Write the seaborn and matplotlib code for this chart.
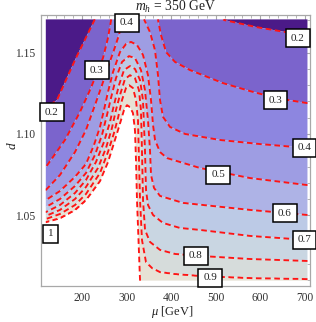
import numpy as np
import matplotlib
matplotlib.use("Agg")
import matplotlib.pyplot as plt
import seaborn as sns
from matplotlib.ticker import MultipleLocator, FormatStrFormatter

sns.set_theme(style="white")
plt.rcParams['font.family'] = ['Liberation Serif', 'DejaVu Serif']
plt.rcParams['mathtext.fontset'] = 'custom'
plt.rcParams['mathtext.it'] = 'Liberation Serif:italic'
plt.rcParams['mathtext.rm'] = 'Liberation Serif'

TITLE = "$m_h$ = 350 GeV"
XLABEL = "$\\mu$ [GeV]"
YLABEL = "$d$"
MU_RANGE = [118.0, 706.0]
D_RANGE = [1.0098, 1.1705]
X_TICKS = [200, 300, 400, 500, 600, 700]
Y_TICKS = [1.05, 1.10, 1.15]

LEVELS = [0.2, 0.3, 0.4, 0.5, 0.6, 0.7, 0.8, 0.9, 1.0]
BAND_COLORS = ["#4b1a88", "#7b64cc", "#8d86e0", "#9e9de3", "#aeb3e6",
               "#bccae6", "#c9d6e2", "#d6dcdb", "#e7e2d5"]

# contour lines: (mu, d) points along each level
C02_MU = [118.4, 143.1, 183.6, 228.5, 251.0, 374.6, 475.7, 518.4, 590.3, 668.9, 704.9]
C02_D = [1.1160, 1.1209, 1.1455, 1.1707, 1.1855, 1.2439, 1.1855, 1.1701, 1.1658, 1.1621, 1.1603]

C03_MU = [118.4, 161.1, 194.8, 217.3, 233.0, 246.5, 257.7, 266.7, 275.7, 318.4, 352.1,
          367.9, 376.8, 388.1, 408.3, 442.0, 516.2, 576.8, 635.2, 704.9]
C03_D = [1.0797, 1.0963, 1.1135, 1.1270, 1.1375, 1.1467, 1.1590, 1.1732, 1.1885, 1.2193, 1.1885,
         1.1732, 1.1609, 1.1504, 1.1443, 1.1393, 1.1313, 1.1264, 1.1221, 1.1190]

C04_MU = [118.4, 149.9, 183.6, 208.3, 228.5, 244.3, 257.7, 271.2, 282.5, 291.5, 300.4, 311.7,
          322.9, 334.1, 352.1, 363.4, 370.1, 374.6, 381.3, 397.1, 430.8, 509.4, 599.3, 704.9]
C04_D = [1.0656, 1.0748, 1.0889, 1.1025, 1.1178, 1.1301, 1.1412, 1.1516, 1.1609, 1.1732, 1.1855, 1.1917,
         1.1855, 1.1732, 1.1627, 1.1516, 1.1362, 1.1209, 1.1105, 1.1043, 1.1000, 1.0963, 1.0938, 1.0914]

C05_MU = [118.4, 149.9, 183.6, 208.3, 226.3, 239.8, 248.8, 257.7, 269.0, 284.7, 298.2, 309.4,
          322.9, 336.4, 347.6, 354.4, 358.9, 363.4, 374.6, 390.3, 464.5, 576.8, 704.9]
C05_D = [1.0594, 1.0649, 1.0736, 1.0815, 1.0932, 1.1043, 1.1148, 1.1258, 1.1381, 1.1504, 1.1553, 1.1566,
         1.1547, 1.1486, 1.1362, 1.1209, 1.1055, 1.0963, 1.0889, 1.0852, 1.0791, 1.0729, 1.0686]

C06_MU = [118.4, 149.9, 183.6, 208.3, 228.5, 244.3, 255.5, 264.5, 275.7, 289.2, 304.9, 318.4,
          331.9, 340.9, 347.6, 352.1, 354.4, 361.1, 374.6, 426.3, 576.8, 704.9]
C06_D = [1.0551, 1.0600, 1.0680, 1.0760, 1.0871, 1.0994, 1.1117, 1.1221, 1.1344, 1.1443, 1.1479, 1.1467,
         1.1393, 1.1270, 1.1086, 1.0902, 1.0748, 1.0668, 1.0619, 1.0576, 1.0533, 1.0502]

C07_MU = [118.4, 149.9, 183.6, 208.3, 230.8, 248.8, 262.2, 271.2, 282.5, 293.7, 307.2, 318.4,
          329.7, 336.4, 340.9, 343.1, 347.6, 358.9, 381.3, 419.5, 464.5, 576.8, 704.9]
C07_D = [1.0520, 1.0563, 1.0637, 1.0717, 1.0828, 1.0951, 1.1074, 1.1178, 1.1301, 1.1393, 1.1418, 1.1400,
         1.1332, 1.1209, 1.0902, 1.0656, 1.0563, 1.0502, 1.0453, 1.0422, 1.0410, 1.0373, 1.0348]

C08_MU = [118.4, 149.9, 183.6, 208.3, 235.3, 253.3, 266.7, 275.7, 284.7, 295.9, 307.2, 318.4,
          327.4, 331.9, 334.1, 336.4, 340.9, 352.1, 374.6, 408.3, 464.5, 576.8, 704.9]
C08_D = [1.0496, 1.0533, 1.0600, 1.0674, 1.0791, 1.0914, 1.1037, 1.1148, 1.1240, 1.1338, 1.1362, 1.1344,
         1.1270, 1.1148, 1.0902, 1.0594, 1.0410, 1.0336, 1.0287, 1.0262, 1.0250, 1.0231, 1.0219]

C09_MU = [118.4, 149.9, 183.6, 208.3, 239.8, 257.7, 271.2, 280.2, 289.2, 298.2, 304.9, 313.9,
          320.7, 325.2, 327.4, 329.7, 334.1, 343.1, 356.6, 374.6, 408.3, 464.5, 576.8, 704.9]
C09_D = [1.0477, 1.0508, 1.0563, 1.0631, 1.0760, 1.0889, 1.1006, 1.1098, 1.1209, 1.1283, 1.1301, 1.1283,
         1.1209, 1.1086, 1.0840, 1.0594, 1.0348, 1.0213, 1.0176, 1.0151, 1.0139, 1.0127, 1.0114, 1.0108]

C10_MU = [118.4, 149.9, 183.6, 208.3, 239.8, 257.7, 271.2, 280.2, 287.0, 293.7, 300.4, 307.2,
          313.9, 318.4, 320.7, 322.9, 326.3, 329.7, 331.9, 345.0, 720.0]
C10_D = [1.0459, 1.0483, 1.0533, 1.0594, 1.0711, 1.0828, 1.0945, 1.1025, 1.1086, 1.1148, 1.1178, 1.1166,
         1.1129, 1.1025, 1.0840, 1.0594, 1.0348, 1.0102, 1.0010, 0.9750, 0.9750]

CONTOURS = [(C02_MU, C02_D), (C03_MU, C03_D), (C04_MU, C04_D), (C05_MU, C05_D),
            (C06_MU, C06_D), (C07_MU, C07_D), (C08_MU, C08_D), (C09_MU, C09_D),
            (C10_MU, C10_D)]

# label boxes (mu, d) as placed in the picture
LABEL_MU = [131.9, 233.0, 300.4, 684.7, 635.2, 700.0, 505.0, 655.5, 700.0, 455.5, 487.0, 128.5]
LABEL_D = [1.1135, 1.1393, 1.1683, 1.1590, 1.1209, 1.0914, 1.0748, 1.0514, 1.0348, 1.0250, 1.0115, 1.0385]
LABEL_TXT = ["0.2", "0.3", "0.4", "0.2", "0.3", "0.4", "0.5", "0.6", "0.7", "0.8", "0.9", "1"]

# ---- build the field from the read contour positions ----
mu = np.linspace(MU_RANGE[0], MU_RANGE[1], 1400)
dd = np.linspace(D_RANGE[0], D_RANGE[1], 600)
dl = np.array([np.interp(mu, m, v) for (m, v) in CONTOURS])  # rows: 0.2 ... 1.0
lev = np.array(LEVELS)
Z = np.empty((dd.size, mu.size))
for j in range(mu.size):
    ds = dl[::-1, j]                 # d for 1.0 ... 0.2 (ascending)
    fs = lev[::-1]
    ds = np.maximum.accumulate(ds + np.arange(ds.size) * 1e-7)
    ds = np.concatenate([[ds[0] - 0.05], ds, [ds[-1] + 0.05]])
    fs = np.concatenate([[1.1], fs, [0.1]])
    Z[:, j] = np.interp(dd, ds, fs)

W, H = 316, 322
fig = plt.figure(figsize=(W / 100, H / 100), dpi=100)
ax = fig.add_axes([41 / W, 1 - 286 / H, (310 - 41) / W, (286 - 15) / H])

fill_levels = [0.0] + LEVELS
ax.contourf(mu, dd, Z, levels=fill_levels, colors=BAND_COLORS, antialiased=True)
cs = ax.contour(mu, dd, Z, levels=LEVELS, colors="#ff1414", linewidths=1.35)
cs.set_linestyle((0, (3.0, 1.9)))

for x, y, t in zip(LABEL_MU, LABEL_D, LABEL_TXT):
    ax.text(x, y, t, ha="center", va="center", fontsize=8, color="#222222",
            zorder=10, clip_on=False,
            bbox=dict(boxstyle="square,pad=0.42", fc="white", ec="black", lw=1.1))

ax.set_xlim(107.2, 711.7)
ax.set_ylim(1.0065, 1.1732)
ax.xaxis.set_major_locator(MultipleLocator(100))
ax.xaxis.set_minor_locator(MultipleLocator(20))
ax.yaxis.set_major_locator(MultipleLocator(0.05))
ax.yaxis.set_minor_locator(MultipleLocator(0.01))
ax.yaxis.set_major_formatter(FormatStrFormatter("%.2f"))
ax.set_xticks(X_TICKS)
ax.set_yticks(Y_TICKS)

frame_c = "#a8a8a8"
for s in ax.spines.values():
    s.set_color(frame_c)
    s.set_linewidth(0.9)
ax.tick_params(which="both", direction="in", top=True, right=True, colors=frame_c,
               labelcolor="#333333", labelsize=8.3)
ax.tick_params(which="major", length=4.5, width=0.8, pad=4)
ax.tick_params(which="minor", length=2.5, width=0.6)

fig.text(175.5 / W, 1 - 7 / H, TITLE, ha="center", va="center", fontsize=9.8, color="#222222",
         zorder=20)
fig.text(172 / W, 1 - 312 / H, XLABEL, ha="center", va="center", fontsize=9, color="#222222")
fig.text(12 / W, 1 - 146 / H, YLABEL, ha="center", va="center", fontsize=9.5, rotation=90,
         color="#222222")

fig.savefig("out.png", dpi=100)
